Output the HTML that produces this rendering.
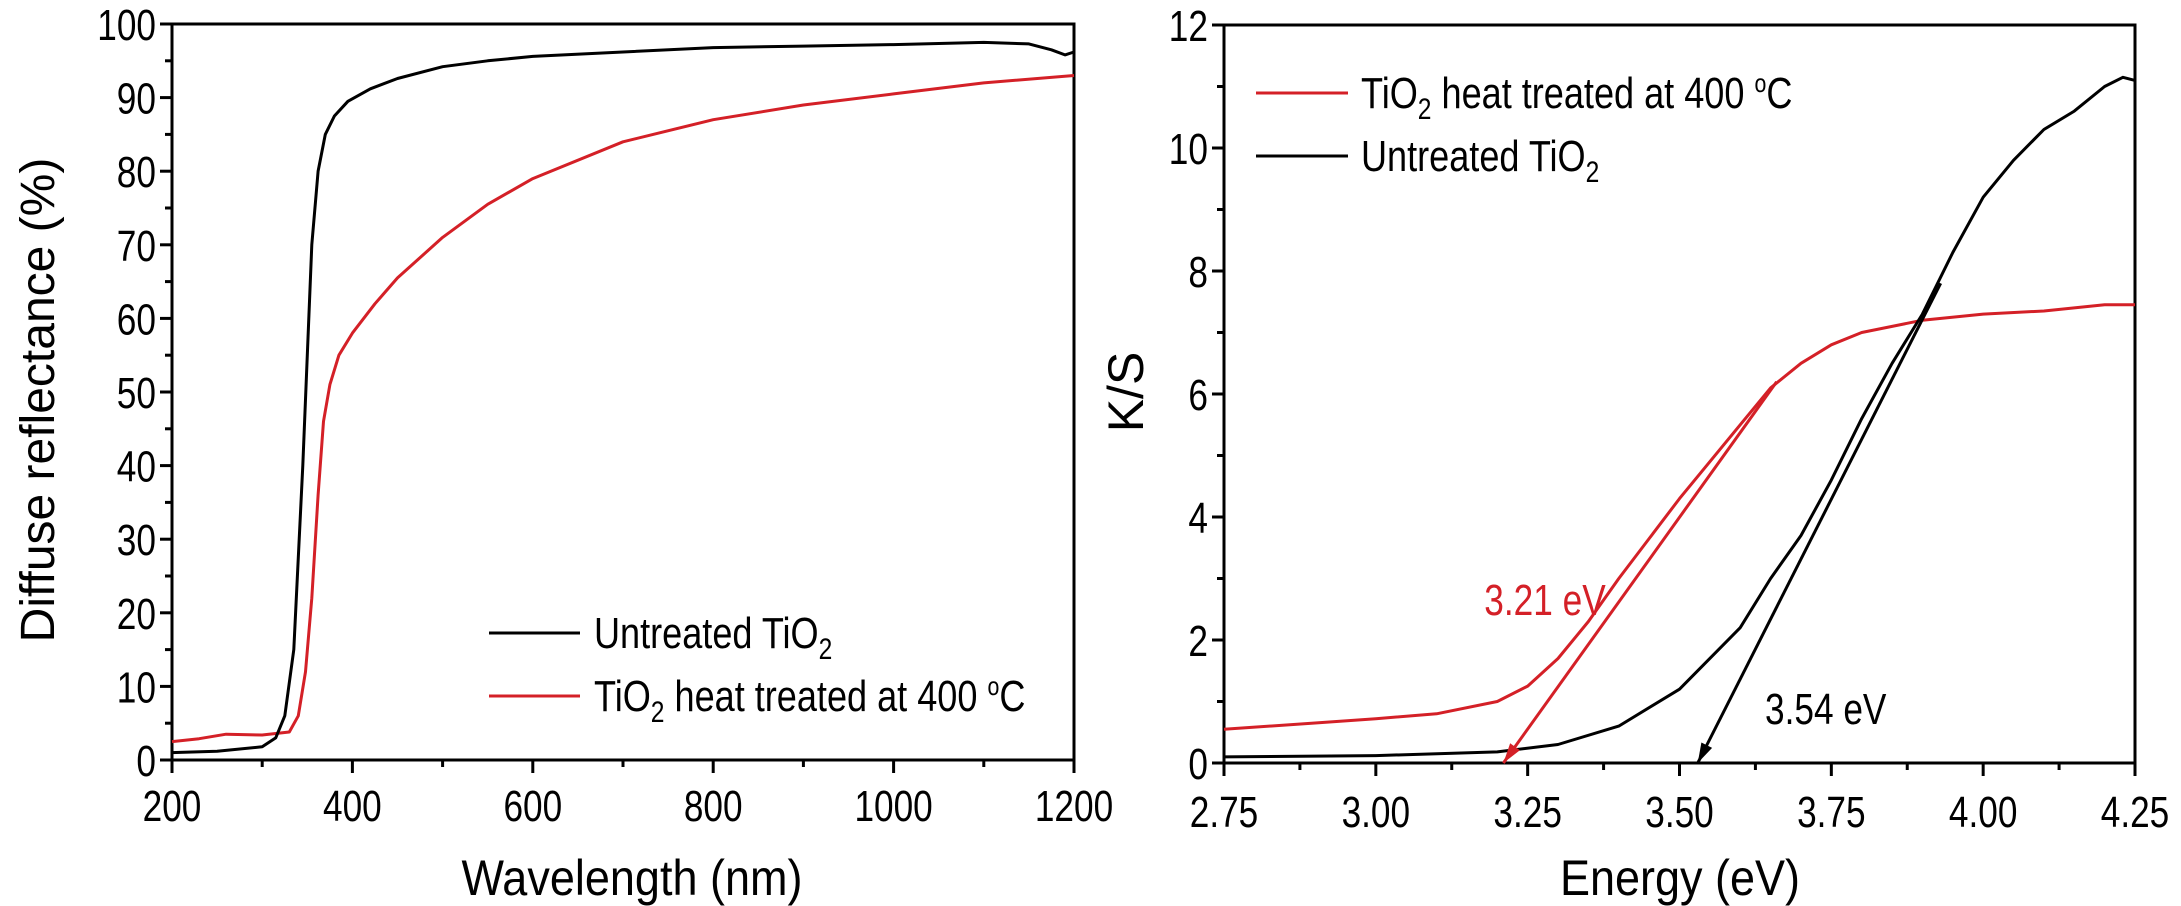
<!DOCTYPE html>
<html><head><meta charset="utf-8">
<style>
html,body{margin:0;padding:0;background:#fff;}
svg{display:block;}
text{font-family:"Liberation Sans",sans-serif;fill:#000;}
</style></head>
<body>
<svg id="fig" width="2181" height="906" viewBox="0 0 2181 906" xmlns="http://www.w3.org/2000/svg">
  <g id="left"></g>
  <g id="right"></g>
</svg>
<script>
// ---- Left chart data ----
const wlBlack = [200,250,300,315,325,335,345,355,362,370,380,395,420,450,500,550,600,700,800,900,1000,1100,1150,1175,1190,1200];
const rBlack  = [1.0,1.2,1.8,3.0,6,15,40,70,80,85,87.5,89.5,91.2,92.6,94.2,95.0,95.6,96.2,96.8,97.0,97.2,97.5,97.3,96.5,95.8,96.2];
const wlRed = [200,230,260,300,330,340,348,355,362,368,375,385,400,425,450,500,550,600,700,800,900,1000,1100,1200];
const rRed  = [2.5,2.9,3.5,3.4,3.8,6,12,22,36,46,51,55,58,62,65.5,71,75.5,79,84,87,89,90.5,92,93];
const xTicksL = [200,400,600,800,1000,1200];
const yTicksL = [0,10,20,30,40,50,60,70,80,90,100];
// ---- Right chart data ----
const eRed = [2.75,2.9,3.0,3.1,3.2,3.25,3.3,3.35,3.4,3.5,3.6,3.65,3.7,3.75,3.8,3.85,3.9,4.0,4.1,4.2,4.25];
const kRed = [0.55,0.65,0.72,0.8,1.0,1.25,1.7,2.3,3.0,4.3,5.5,6.1,6.5,6.8,7.0,7.1,7.2,7.3,7.35,7.45,7.45];
const eBlack = [2.75,3.0,3.2,3.3,3.4,3.5,3.6,3.65,3.7,3.75,3.8,3.85,3.9,3.95,4.0,4.05,4.1,4.15,4.2,4.23,4.25];
const kBlack = [0.1,0.12,0.18,0.3,0.6,1.2,2.2,3.0,3.7,4.6,5.6,6.5,7.3,8.3,9.2,9.8,10.3,10.6,11.0,11.15,11.1];
const xTicksR = ["2.75","3.00","3.25","3.50","3.75","4.00","4.25"];
const yTicksR = [0,2,4,6,8,10,12];
const tangentRed = [[3.66,6.2],[3.21,0]];
const tangentBlack = [[3.93,7.8],[3.53,0]];

const NS="http://www.w3.org/2000/svg";
function mk(parent,tag,attrs,txt){const e=document.createElementNS(NS,tag);for(const k in attrs)e.setAttribute(k,attrs[k]);if(txt!==undefined)e.textContent=txt;parent.appendChild(e);return e;}
function narrow(t,f){const w=t.getComputedTextLength();t.setAttribute('textLength',(w*f).toFixed(1));t.setAttribute('lengthAdjust','spacingAndGlyphs');}

const L={x0:172,x1:1074,y0:760,y1:24,xmin:200,xmax:1200,ymin:0,ymax:100};
const R={x0:1224,x1:2135,y0:763,y1:25,xmin:2.75,xmax:4.25,ymin:0,ymax:12};
function sx(a,v){return a.x0+(v-a.xmin)/(a.xmax-a.xmin)*(a.x1-a.x0);}
function sy(a,v){return a.y0-(v-a.ymin)/(a.ymax-a.ymin)*(a.y0-a.y1);}

function frame(g,a){
  const r=mk(g,'rect',{x:a.x0,y:a.y1,width:a.x1-a.x0,height:a.y0-a.y1,fill:'none',stroke:'#000','stroke-width':3});
  
  
}
function series(g,a,xs,ys,color,name){
  let d='';xs.forEach((x,i)=>{d+=(i?'L':'M')+sx(a,x).toFixed(1)+','+sy(a,ys[i]).toFixed(1);});
  const p=mk(g,'path',{d:d,fill:'none',stroke:color,'stroke-width':3,'stroke-linejoin':'round'});
  
  
}
const TF=44, NF=0.8;

// ---- Left chart ----
const gl=document.getElementById('left');
frame(gl,L);
for(let v=0;v<=100;v+=5){
  const y=sy(L,v),len=(v%10===0)?12:7;
  const t=mk(gl,'line',{x1:L.x0-len,x2:L.x0,y1:y,y2:y,stroke:'#000','stroke-width':3});
  
  
}
yTicksL.forEach(v=>{
  const t=mk(gl,'text',{x:L.x0-16,y:sy(L,v)+16,'font-size':TF,'text-anchor':'end'},String(v));
  
  
  narrow(t,NF);
});
for(let v=200;v<=1200;v+=100){
  const x=sx(L,v),len=(v%200===0)?13:7;
  const t=mk(gl,'line',{x1:x,x2:x,y1:L.y0,y2:L.y0+len,stroke:'#000','stroke-width':3});
  
  
}
xTicksL.forEach(v=>{
  const t=mk(gl,'text',{x:sx(L,v),y:821,'font-size':TF,'text-anchor':'middle'},String(v));
  
  
  narrow(t,NF);
});
series(gl,L,wlRed,rRed,'#d42027','series-heat-treated');
series(gl,L,wlBlack,rBlack,'#000','series-untreated');
(function(){
  const t=mk(gl,'text',{x:632,y:895,'font-size':50,'text-anchor':'middle'},'Wavelength (nm)');
  
  
  narrow(t,0.9);
  const y=mk(gl,'text',{x:0,y:0,'font-size':48,'text-anchor':'middle',transform:'translate(54,400) rotate(-90)'},'Diffuse reflectance (%)');
  
  
  const l1=mk(gl,'line',{x1:489,x2:580,y1:633,y2:633,stroke:'#000','stroke-width':3});
  
  
  const t1=mk(gl,'text',{x:594,y:648,'font-size':TF});
  
  
  t1.innerHTML='Untreated TiO<tspan font-size="30" dy="11">2</tspan>';
  narrow(t1,0.82);
  const l2=mk(gl,'line',{x1:489,x2:580,y1:696,y2:696,stroke:'#d42027','stroke-width':3});
  
  
  const t2=mk(gl,'text',{x:594,y:711,'font-size':TF});
  
  
  t2.innerHTML='TiO<tspan font-size="30" dy="11">2</tspan><tspan dy="-11"> heat treated at 400 </tspan><tspan font-size="26" dy="-16">o</tspan><tspan dy="16">C</tspan>';
  narrow(t2,0.82);
})();

// ---- Right chart ----
const gr=document.getElementById('right');
frame(gr,R);
for(let v=0;v<=12;v+=1){
  const y=sy(R,v),len=(v%2===0)?12:7;
  const t=mk(gr,'line',{x1:R.x0-len,x2:R.x0,y1:y,y2:y,stroke:'#000','stroke-width':3});
  
  
}
yTicksR.forEach(v=>{
  const t=mk(gr,'text',{x:R.x0-16,y:sy(R,v)+16,'font-size':TF,'text-anchor':'end'},String(v));
  
  
  narrow(t,NF);
});
for(let i=0;i<=12;i++){
  const v=2.75+i*0.125,x=sx(R,v),len=(i%2===0)?13:7;
  const t=mk(gr,'line',{x1:x,x2:x,y1:R.y0,y2:R.y0+len,stroke:'#000','stroke-width':3});
  
  
}
xTicksR.forEach(v=>{
  const t=mk(gr,'text',{x:sx(R,parseFloat(v)),y:827,'font-size':TF,'text-anchor':'middle'},v);
  
  
  narrow(t,NF);
});
series(gr,R,eRed,kRed,'#d42027','series-heat-treated');
series(gr,R,eBlack,kBlack,'#000','series-untreated');
function arrow(g,a,pts,color,name){
  const x1=sx(a,pts[0][0]),y1=sy(a,pts[0][1]),x2=sx(a,pts[1][0]),y2=sy(a,pts[1][1]);
  const ln=mk(g,'line',{x1:x1,y1:y1,x2:x2,y2:y2,stroke:color,'stroke-width':3});
  
  
  const ang=Math.atan2(y2-y1,x2-x1),L2=20,w=6;
  const bx=x2-L2*Math.cos(ang),by=y2-L2*Math.sin(ang);
  const px=-Math.sin(ang)*w,py=Math.cos(ang)*w;
  const h=mk(g,'polygon',{points:`${x2},${y2} ${bx+px},${by+py} ${bx-px},${by-py}`,fill:color});
  
  
}
arrow(gr,R,tangentRed,'#d42027','tangent-arrow-heat-treated');
arrow(gr,R,tangentBlack,'#000','tangent-arrow-untreated');
(function(){
  const a1=mk(gr,'text',{x:1545,y:615,'font-size':TF,'text-anchor':'middle',style:'fill:#d42027'},'3.21 eV');
  
  
  narrow(a1,NF);
  const a2=mk(gr,'text',{x:1765,y:724,'font-size':TF},'3.54 eV');
  
  
  narrow(a2,NF);
  const t=mk(gr,'text',{x:1680,y:895,'font-size':50,'text-anchor':'middle'},'Energy (eV)');
  
  
  narrow(t,0.9);
  const y=mk(gr,'text',{x:0,y:0,'font-size':50,'text-anchor':'middle',transform:'translate(1143,392) rotate(-90)'},'K/S');
  
  
  const l1=mk(gr,'line',{x1:1256,x2:1348,y1:93,y2:93,stroke:'#d42027','stroke-width':3});
  
  
  const t1=mk(gr,'text',{x:1361,y:108,'font-size':TF});
  
  
  t1.innerHTML='TiO<tspan font-size="30" dy="11">2</tspan><tspan dy="-11"> heat treated at 400 </tspan><tspan font-size="26" dy="-16">o</tspan><tspan dy="16">C</tspan>';
  narrow(t1,0.82);
  const l2=mk(gr,'line',{x1:1256,x2:1348,y1:156,y2:156,stroke:'#000','stroke-width':3});
  
  
  const t2=mk(gr,'text',{x:1361,y:171,'font-size':TF});
  
  
  t2.innerHTML='Untreated TiO<tspan font-size="30" dy="11">2</tspan>';
  narrow(t2,0.82);
})();
</script>
</body></html>
